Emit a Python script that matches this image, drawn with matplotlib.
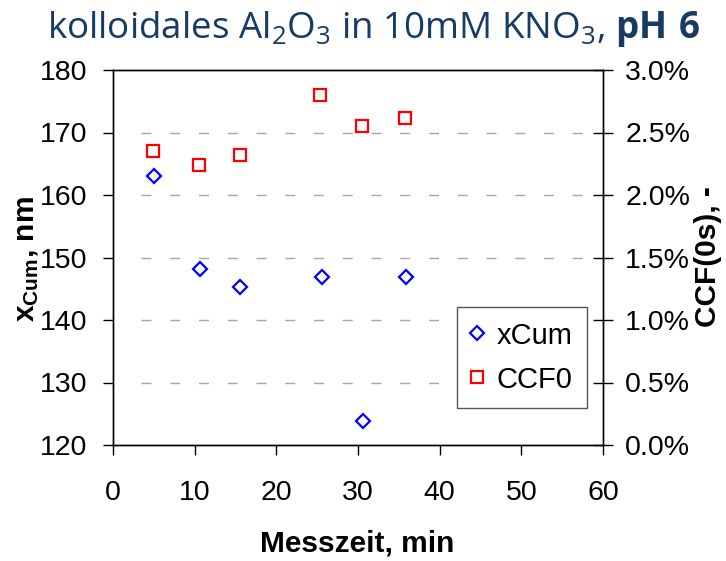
import matplotlib
matplotlib.use("Agg")
import matplotlib.pyplot as plt
from matplotlib.ticker import PercentFormatter, MultipleLocator

# data
zeit_cum = [5.0, 10.6, 15.6, 25.6, 30.6, 35.9]
x_cum = [163.0, 148.1, 145.3, 146.9, 123.9, 146.9]
zeit_ccf = [4.9, 10.5, 15.5, 25.4, 30.5, 35.7]
ccf0 = [0.0235, 0.0224, 0.0232, 0.0280, 0.0255, 0.0262]
grid_levels = [130, 140, 150, 160, 170]

plt.rcParams["font.family"] = ["Liberation Sans", "DejaVu Sans"]
plt.rcParams["mathtext.fontset"] = "custom"
plt.rcParams["mathtext.rm"] = "Open Sans"
plt.rcParams["mathtext.bf"] = "Open Sans:bold"
plt.rcParams["mathtext.sf"] = "Liberation Sans:bold"

W, H = 726, 561
fig = plt.figure(figsize=(W / 100, H / 100), dpi=100)
ax = fig.add_axes([113 / W, 1 - 445 / H, 490 / W, 375 / H])
ax2 = ax.twinx()

# left axis
ax.set_xlim(0, 60)
ax.set_ylim(120, 180)
ax.xaxis.set_major_locator(MultipleLocator(10))
ax.yaxis.set_major_locator(MultipleLocator(10))
ax.tick_params(axis="both", direction="out", length=7.5, width=1, labelsize=20.5, pad=11)
ax.tick_params(axis="x", pad=18)
ax.hlines(grid_levels, 3.45, 60, colors="#a6a6a6", lw=1.0, linestyles=(0, (7.2, 13.5)), zorder=0)

# right axis
ax2.set_ylim(0, 0.03)
ax2.yaxis.set_major_locator(MultipleLocator(0.005))
ax2.yaxis.set_major_formatter(PercentFormatter(1, decimals=1))
ax2.tick_params(axis="y", direction="inout", length=14, width=1, labelsize=20.5, pad=9)

for a in (ax, ax2):
    for s in a.spines.values():
        s.set_linewidth(1.0)
        s.set_color("black")

l1, = ax.plot(zeit_cum, x_cum, linestyle="none", marker="D", ms=7.0, mfc="none",
              mec="#0000ff", mew=1.6, label="xCum")
l2, = ax2.plot(zeit_ccf, ccf0, linestyle="none", marker="s", ms=8.0, mfc="none",
               mec="#ff0000", mew=1.6, label="CCF0")

leg = ax2.legend(handles=[l1, l2], loc="upper left", bbox_to_anchor=(457 / W, 1 - 307 / H),
                 bbox_transform=fig.transFigure, borderaxespad=0, fontsize=21,
                 handlelength=0.4, handletextpad=0.45, labelspacing=0.55, borderpad=0.5,
                 fancybox=False, framealpha=1)
leg.get_frame().set_edgecolor("#555555")
leg.get_frame().set_linewidth(1.0)

# labels
fig.text(357 / W, 1 - 544 / H, "Messzeit, min", ha="center", va="center",
         fontsize=21.5, fontweight="bold")
fig.text(27 / W, 1 - 259 / H, r"$\mathsf{x_{Cum}}$, nm", ha="center", va="center",
         rotation=90, fontsize=21.5, fontweight="bold")
fig.text(708 / W, 1 - 257 / H, "CCF(0s), -", ha="center", va="center",
         rotation=90, fontsize=21.5, fontweight="bold")
fig.text(374 / W, 1 - 38 / H, r"kolloidales Al$_2$O$_3$ in 10mM KNO$_3$, $\mathbf{pH\ 6}$",
         ha="center", va="baseline", fontsize=26.5, family="Open Sans", color="#173a66")

fig.savefig("out.png", dpi=100)
